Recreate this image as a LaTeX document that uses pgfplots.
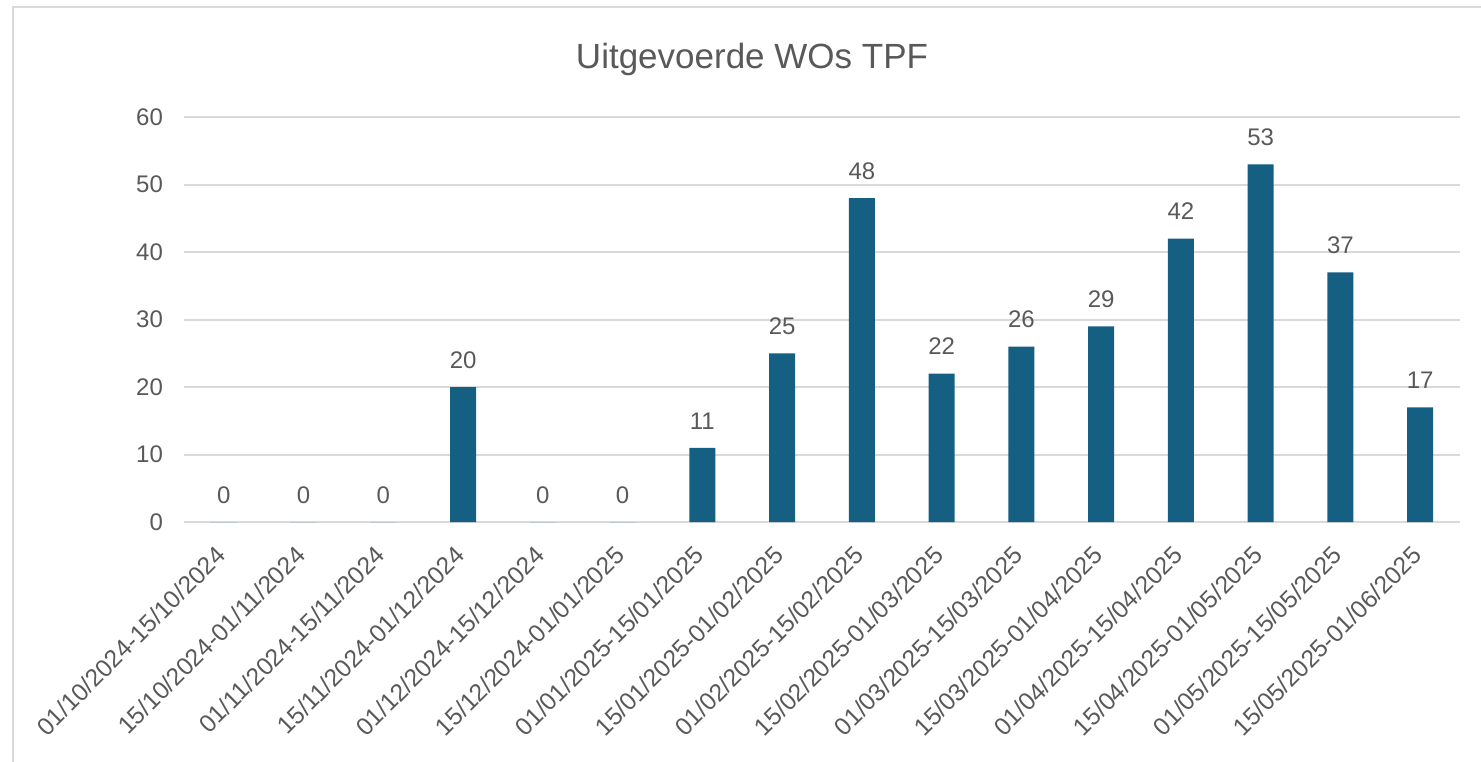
\documentclass[border=0pt]{standalone}
\usepackage{pgfplots}
\pgfplotsset{compat=1.18}
\usepackage{fontspec}
\setmainfont{Liberation Sans}
\definecolor{barblue}{HTML}{156082}
\definecolor{txtgray}{HTML}{595959}
\definecolor{gridgray}{HTML}{D9D9D9}
\begin{document}
\begin{tikzpicture}
\useasboundingbox (-92pt,-119.5pt) rectangle (648.5pt,261pt);
\draw[gridgray, line width=1.3pt] (-85.5pt,-125pt) -- (-85.5pt,257.5pt) -- (655pt,257.5pt);
\node[txtgray, font=\fontsize{17.5}{20}\selectfont] at (284pt,231.5pt) {Uitgevoerde WOs TPF};
\begin{axis}[
  scale only axis,
  width=638pt, height=202.5pt,
  ymin=0, ymax=60, ytick={0,10,...,60},
  xmin=-0.5, xmax=15.5,
  xtick=data,
  xticklabels={01/10/2024-15/10/2024,15/10/2024-01/11/2024,01/11/2024-15/11/2024,15/11/2024-01/12/2024,01/12/2024-15/12/2024,15/12/2024-01/01/2025,01/01/2025-15/01/2025,15/01/2025-01/02/2025,01/02/2025-15/02/2025,15/02/2025-01/03/2025,01/03/2025-15/03/2025,15/03/2025-01/04/2025,01/04/2025-15/04/2025,15/04/2025-01/05/2025,01/05/2025-15/05/2025,15/05/2025-01/06/2025},
  xticklabel style={xshift=1pt, yshift=-12pt, rotate=45, anchor=east, font=\fontsize{12.3}{14}\selectfont, text=txtgray},
  yticklabel style={font=\fontsize{12}{14}\selectfont, text=txtgray, xshift=-7pt},
  /pgf/number format/assume math mode=true,
  axis x line*=bottom,
  axis y line*=left,
  x axis line style={gridgray, line width=1pt},
  y axis line style={draw=none},
  ymajorgrids,
  grid style={gridgray, line width=1pt},
  major tick length=0pt,
  ybar, bar width=13pt,
  nodes near coords,
  every node near coord/.style={font=\fontsize{12}{14}\selectfont, text=txtgray, anchor=center, yshift=13.5pt},
  clip=false,
]
\addplot[fill=barblue, draw=none] coordinates {
(0,0) (1,0) (2,0) (3,20) (4,0) (5,0) (6,11) (7,25) (8,48) (9,22) (10,26) (11,29) (12,42) (13,53) (14,37) (15,17)};
\end{axis}
\end{tikzpicture}
\end{document}
